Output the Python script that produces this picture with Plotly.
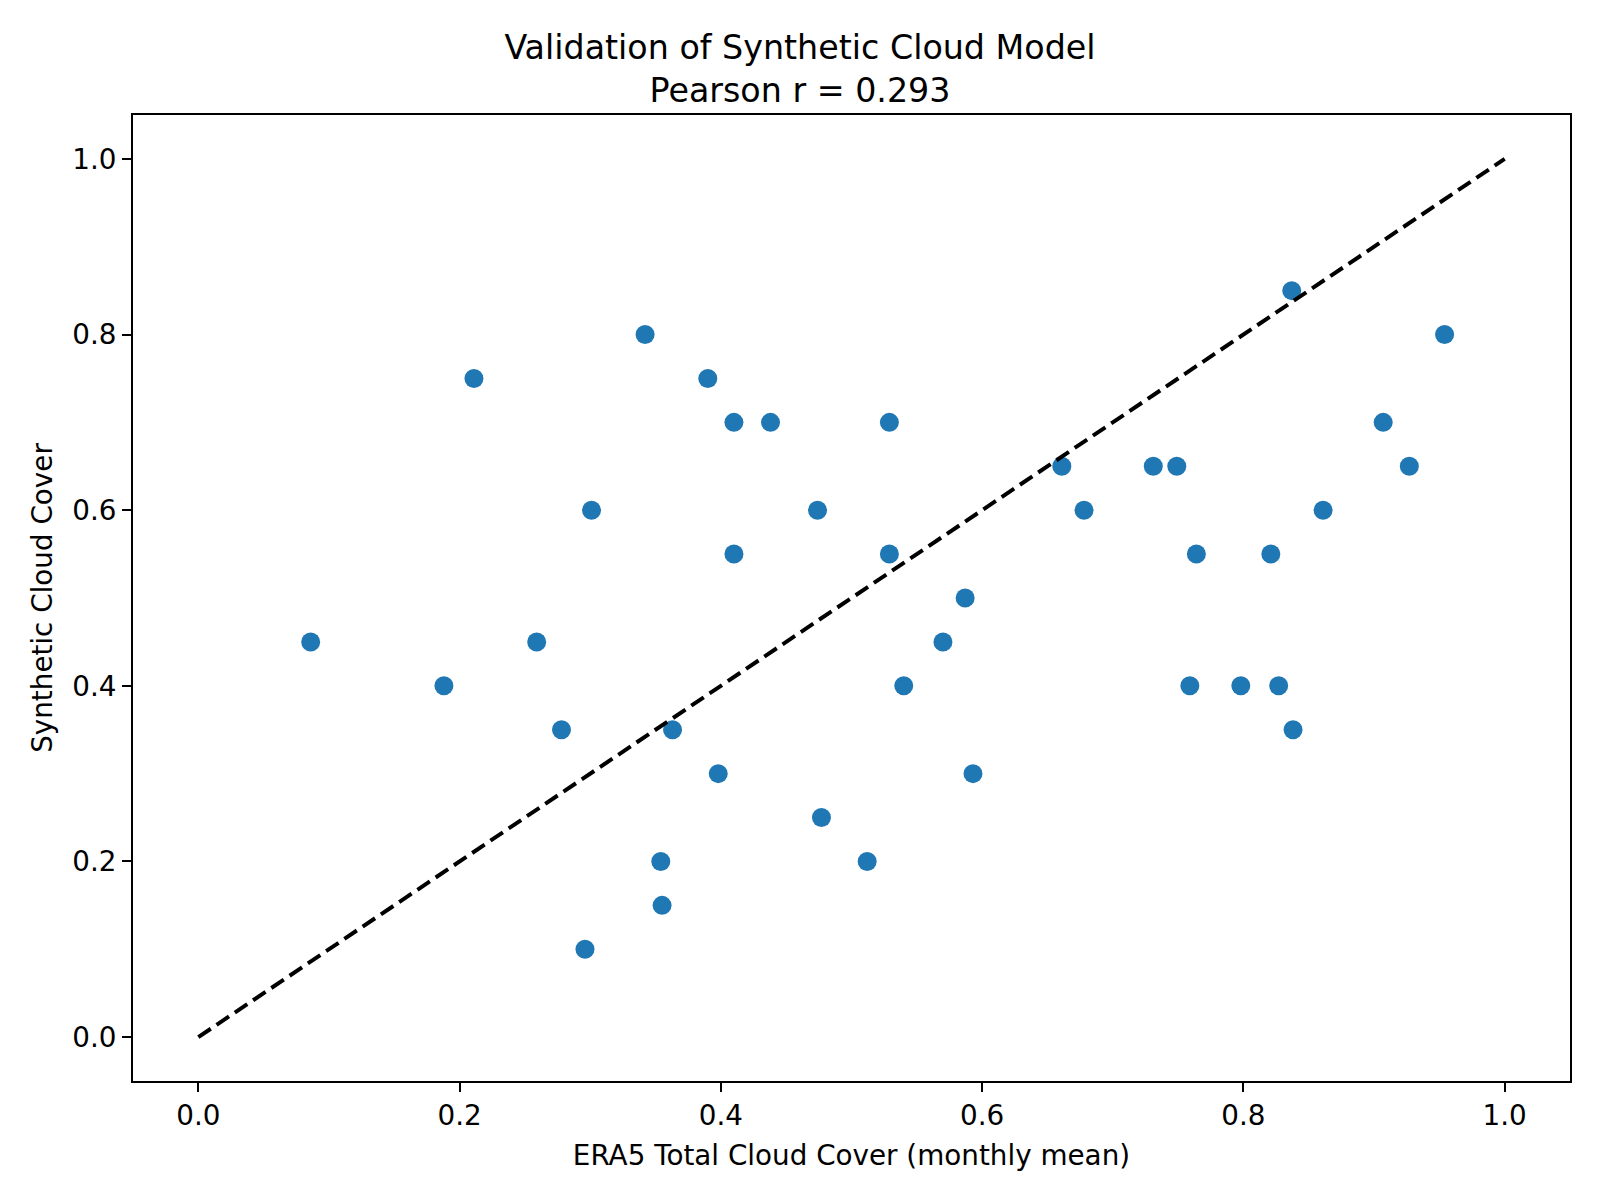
import plotly.graph_objects as go

# ERA5 total cloud cover (monthly mean) vs synthetic cloud cover
era5_tcc = [0.086, 0.188, 0.211, 0.259, 0.278, 0.301, 0.296, 0.342, 0.354, 0.355,
            0.363, 0.390, 0.398, 0.410, 0.410, 0.438, 0.474, 0.477, 0.512, 0.529,
            0.529, 0.540, 0.570, 0.587, 0.593, 0.661, 0.678, 0.731, 0.749, 0.759,
            0.764, 0.798, 0.821, 0.827, 0.837, 0.838, 0.861, 0.907, 0.927, 0.954]
synthetic_cc = [0.45, 0.40, 0.75, 0.45, 0.35, 0.60, 0.10, 0.80, 0.20, 0.15,
                0.35, 0.75, 0.30, 0.70, 0.55, 0.70, 0.60, 0.25, 0.20, 0.70,
                0.55, 0.40, 0.45, 0.50, 0.30, 0.65, 0.60, 0.65, 0.65, 0.40,
                0.55, 0.40, 0.55, 0.40, 0.85, 0.35, 0.60, 0.70, 0.65, 0.80]

identity_x = [0.0, 1.0]
identity_y = [0.0, 1.0]

tick_vals = [0.0, 0.2, 0.4, 0.6, 0.8, 1.0]
tick_text = ["0.0", "0.2", "0.4", "0.6", "0.8", "1.0"]

title_text = "Validation of Synthetic Cloud Model<br>Pearson r = 0.293"
x_label = "ERA5 Total Cloud Cover (monthly mean)"
y_label = "Synthetic Cloud Cover"

FONT = "DejaVu Sans"
LABEL_SIZE = 27.8
TITLE_SIZE = 33.3

fig = go.Figure()
fig.add_trace(go.Scatter(
    x=era5_tcc, y=synthetic_cc, mode="markers",
    marker=dict(color="#1f77b4", size=19, line=dict(width=0)),
    showlegend=False, hoverinfo="x+y",
))
fig.add_trace(go.Scatter(
    x=identity_x, y=identity_y, mode="lines",
    line=dict(color="black", width=4, dash="15px,7px"),
    showlegend=False, hoverinfo="skip",
))

axis_common = dict(
    range=[-0.05, 1.05],
    tickvals=tick_vals, ticktext=tick_text,
    ticks="outside", ticklen=9, tickwidth=2, tickcolor="black",
    showline=True, linewidth=2, linecolor="black", mirror=True,
    showgrid=False, zeroline=False,
    tickfont=dict(family=FONT, size=LABEL_SIZE, color="black"),
    automargin=False,
)

fig.update_layout(
    width=1600, height=1200,
    paper_bgcolor="white", plot_bgcolor="white",
    margin=dict(l=133, r=30, t=115, b=119),
    font=dict(family=FONT, color="black"),
    title=dict(text=title_text, x=0.5, xanchor="center",
               y=1 - 59 / 1200, yref="container", yanchor="middle",
               font=dict(family=FONT, size=TITLE_SIZE, color="black")),
    xaxis=dict(**axis_common,
               title=dict(text=x_label, standoff=14,
                          font=dict(family=FONT, size=LABEL_SIZE, color="black"))),
    yaxis=dict(**axis_common,
               title=dict(text=y_label, standoff=11,
                          font=dict(family=FONT, size=LABEL_SIZE, color="black"))),
)

fig.write_html("out.html")
